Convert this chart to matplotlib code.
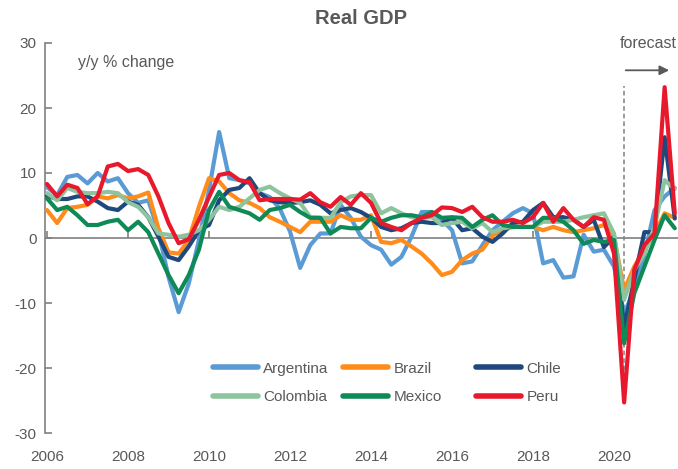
import numpy as np
import matplotlib
matplotlib.use("Agg")
import matplotlib.pyplot as plt
from matplotlib.lines import Line2D

plt.rcParams['font.family'] = ['Liberation Sans', 'DejaVu Sans']
plt.rcParams['axes.unicode_minus'] = False

# ---- data: quarterly y/y % change, 2006Q1 .. 2021Q3 ----
start_year = 2006
argentina = [7.8, 6.6, 9.4, 9.7, 8.4, 10.0, 8.7, 9.2, 6.9, 5.4, 5.8, 1.0,
             -6.0, -11.4, -7.0, -0.3, 7.4, 16.3, 9.2, 8.9, 8.4, 6.9, 6.3, 4.5,
             1.0, -4.6, -1.1, 0.7, 0.7, 5.1, 3.1, 0.2, -1.1, -1.8, -4.1, -2.9,
             0.2, 4.0, 4.0, 2.8, 1.2, -3.9, -3.6, -1.1, 1.2, 2.5, 3.8, 4.6,
             3.8, -3.9, -3.4, -6.1, -5.9, 0.5, -2.1, -1.8, -4.4, -11.6, -8.0, -2.6,
             4.3, 6.4, 7.7]
brazil = [4.3, 2.3, 4.6, 4.8, 5.1, 6.4, 6.1, 6.6, 6.1, 6.4, 7.0, 1.5,
          -2.2, -2.4, -0.3, 4.8, 9.2, 8.7, 6.9, 5.8, 5.4, 4.6, 3.2, 2.5,
          1.7, 0.9, 2.5, 2.5, 2.5, 3.5, 2.8, 2.8, 3.5, -0.6, -0.8, -0.3,
          -1.3, -2.4, -3.9, -5.7, -5.2, -3.4, -2.4, -1.8, 0.4, 1.2, 1.7, 1.7,
          1.7, 1.2, 1.7, 1.2, 0.9, 1.2, 1.5, 2.0, 0.2, -8.0, -4.4, -1.8,
          0.7, 3.8, 3.1]
chile = [6.5, 6.0, 6.0, 6.4, 6.4, 5.6, 4.6, 4.3, 5.6, 5.1, 3.2, 0.2,
         -2.9, -3.4, -1.3, 1.2, 2.0, 5.8, 7.4, 7.7, 9.2, 6.9, 5.8, 5.5,
         5.4, 5.5, 5.8, 5.1, 3.8, 4.3, 4.6, 4.0, 3.1, 1.7, 1.2, 1.5,
         2.3, 2.5, 2.3, 2.3, 3.1, 1.2, 1.5, 0.2, -0.6, 0.7, 2.3, 2.5,
         4.3, 5.4, 3.2, 3.2, 2.8, 1.7, 2.8, -1.4, 0.2, -13.7, -6.4, 0.9,
         0.9, 15.5, 3.0]
colombia = [6.9, 5.8, 7.7, 7.1, 6.9, 6.9, 7.1, 6.9, 5.5, 4.8, 3.2, 0.7,
            0.5, 0.2, 0.5, 1.2, 2.8, 4.8, 4.3, 4.8, 6.1, 7.4, 7.9, 6.9,
            6.1, 5.4, 3.2, 3.1, 3.1, 5.5, 6.4, 6.6, 6.6, 3.8, 4.6, 3.8,
            3.2, 3.1, 3.2, 2.0, 2.3, 2.5, 1.5, 2.3, 0.9, 1.5, 1.7, 1.7,
            1.7, 2.5, 2.5, 2.5, 2.8, 3.2, 3.5, 3.8, 0.7, -9.5, -4.9, -2.4,
            1.7, 8.9, 7.5]
mexico = [6.1, 4.3, 4.8, 3.5, 2.0, 2.0, 2.5, 2.8, 1.2, 2.5, 0.9, -2.4,
          -5.7, -8.5, -5.7, -1.8, 4.3, 7.1, 4.8, 4.3, 3.8, 2.8, 4.3, 4.6,
          5.1, 4.0, 3.1, 3.1, 0.7, 1.7, 1.5, 1.5, 3.1, 2.5, 3.1, 3.5,
          3.5, 3.2, 4.0, 3.1, 3.2, 3.1, 1.7, 2.8, 3.5, 2.0, 1.7, 1.7,
          1.7, 3.1, 3.1, 2.5, 1.2, -0.9, -0.3, -0.6, -0.3, -16.2, -8.5, -4.4,
          -0.3, 3.5, 1.5]
peru = [8.3, 6.4, 8.2, 7.7, 5.2, 6.4, 11.0, 11.4, 10.3, 10.6, 9.7, 6.4,
        2.3, -0.8, -0.2, 2.8, 6.3, 9.7, 10.0, 8.9, 8.6, 5.8, 6.0, 6.0,
        6.0, 5.9, 6.9, 5.5, 4.8, 6.3, 5.1, 6.9, 5.4, 2.3, 1.7, 1.2,
        2.3, 3.1, 3.5, 4.7, 4.6, 4.0, 4.8, 3.2, 2.5, 2.5, 2.8, 2.3,
        3.2, 5.4, 2.5, 4.6, 2.8, 1.7, 3.2, 2.8, -2.4, -25.3, -4.9, -1.1,
        0.7, 23.2, 3.8]

countries = ["Argentina", "Brazil", "Chile", "Colombia", "Mexico", "Peru"]
series = [argentina, brazil, chile, colombia, mexico, peru]
colors = ["#5B9BD5", "#FF8C1A", "#1F497D", "#8DC49E", "#0F8A57", "#E8192C"]

year_ticks = [2006, 2008, 2010, 2012, 2014, 2016, 2018, 2020]
y_ticks = [-30, -20, -10, 0, 10, 20, 30]
forecast_start = 2020.25

gray = "#595959"
axis_gray = "#808080"

W, H = 678, 469
fig = plt.figure(figsize=(W / 100, H / 100), dpi=100)
ax_l, ax_r, ax_t, ax_b = 45, 678, 43, 433
ax = fig.add_axes([ax_l / W, (H - ax_b) / H, (ax_r - ax_l) / W, (ax_b - ax_t) / H])

x = start_year + np.arange(len(peru)) / 4.0

ax.set_xlim(2005.95, 2021.58)
ax.set_ylim(-30, 30)
ax.set_yticks(y_ticks)
ax.set_xticks(year_ticks)
ax.set_xticklabels([str(y) for y in year_ticks])

for s in ['top', 'right', 'bottom']:
    ax.spines[s].set_visible(False)
ax.spines['left'].set_color(axis_gray)
ax.spines['left'].set_linewidth(1.2)
ax.tick_params(axis='y', direction='in', length=5, width=1.2, color=axis_gray,
               labelcolor=gray, labelsize=11, pad=6)
ax.tick_params(axis='x', length=0, labelcolor=gray, labelsize=11, pad=12)

# zero line with downward ticks
ax.axhline(0, color=axis_gray, lw=1.2, zorder=1)
sec = ax.secondary_xaxis(0.5)
sec.set_xticks(year_ticks)
sec.set_xticklabels([])
sec.tick_params(axis='x', direction='out', length=5, width=1.2, color=axis_gray)
for sp in sec.spines.values():
    sp.set_visible(False)

for name, vals, c in zip(countries, series, colors):
    ax.plot(x, vals, color=c, lw=3.0, solid_joinstyle='round', solid_capstyle='round',
            label=name, zorder=3)

ax.set_title("Real GDP", fontsize=14.5, fontweight='bold', color=gray, pad=14)

ax.text(33 / (ax_r - ax_l), 0.951, "y/y % change", transform=ax.transAxes,
        fontsize=11.5, color=gray, ha='left', va='center')

# forecast marker
ax.vlines(forecast_start, -25, 23.4, colors=axis_gray, linestyles=(0, (3, 2)), lw=1.1, zorder=2)
ax.annotate("", xy=(2021.43, 25.8), xytext=(2020.22, 25.8),
            arrowprops=dict(arrowstyle='-|>', color=gray, lw=1.3, mutation_scale=14))
ax.text(2021.56, 30.0, "forecast", fontsize=11.5, color=gray, ha='right', va='center')

# legend: three columns, two rows
col_x = [213, 343, 476]
for i, cx in enumerate(col_x):
    hs = [Line2D([], [], color=colors[i], lw=4.0, solid_capstyle='round'),
          Line2D([], [], color=colors[i + 3], lw=4.0, solid_capstyle='round')]
    fig.legend(hs, [countries[i], countries[i + 3]], loc='center left',
               bbox_to_anchor=(cx / W, (H - 383) / H), bbox_transform=fig.transFigure,
               frameon=False, borderpad=0, handlelength=2.95, handletextpad=0.35,
               labelspacing=0.95, fontsize=11, labelcolor=gray, borderaxespad=0)

fig.savefig("out.png", dpi=100)
